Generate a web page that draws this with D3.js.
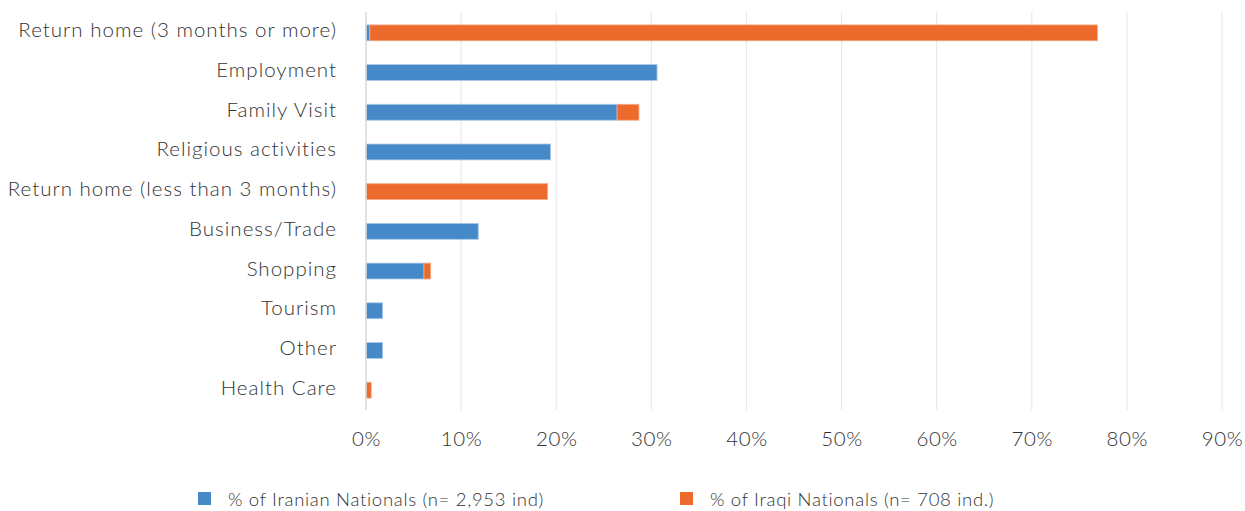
<!DOCTYPE html>
<html>
<head>
<meta charset="utf-8">
<script src="https://cdn.jsdelivr.net/npm/d3@7"></script>
<style>
  body { margin: 0; background: #fff; }
  text { font-family: "Lato", "Open Sans", sans-serif; fill: #333; font-weight: 300; }
</style>
</head>
<body>
<div id="chart"></div>
<script>
const categories = [
  "Return home (3 months or more)", "Employment", "Family Visit", "Religious activities",
  "Return home (less than 3 months)", "Business/Trade", "Shopping", "Tourism", "Other", "Health Care"
]
const iranian = [0.4, 30.6, 26.4, 19.4, 0, 11.8, 6.1, 1.75, 1.75, 0]
const iraqi   = [76.5, 0, 2.3, 0, 19.1, 0, 0.7, 0, 0, 0.55]
const tickValues = [0, 10, 20, 30, 40, 50, 60, 70, 80, 90]
const seriesNames = ["% of Iranian Nationals (n= 2,953 ind)", "% of Iraqi Nationals (n= 708 ind.)"]
const colors = ["#4689c8", "#ed6a2d"]

const W = 1245, H = 511
const MARGIN = { TOP: 13, BOTTOM: 101, LEFT: 366, RIGHT: 23 }

const svg = d3.select("#chart").append("svg")
  .attr("width", W).attr("height", H)

const x = d3.scaleLinear().domain([0, 90]).range([MARGIN.LEFT, W - MARGIN.RIGHT])
const y = d3.scaleBand().domain(categories)
  .range([MARGIN.TOP, H - MARGIN.BOTTOM])
  .paddingInner(0.6).paddingOuter(0.3)

// gridlines
svg.append("g").selectAll("line")
  .data(tickValues.slice(1))
  .join("line")
    .attr("x1", d => x(d)).attr("x2", d => x(d))
    .attr("y1", MARGIN.TOP - 1).attr("y2", H - MARGIN.BOTTOM)
    .attr("stroke", "#e9e9e9").attr("stroke-width", 1.2)

const rows = categories.map((c, i) => ({ cat: c, a: iranian[i], b: iraqi[i] }))

const g = svg.append("g")
g.selectAll("rect.ir")
  .data(rows.filter(d => d.a > 0))
  .join("rect")
    .attr("x", x(0))
    .attr("y", d => y(d.cat))
    .attr("width", d => x(d.a) - x(0))
    .attr("height", y.bandwidth())
    .attr("fill", colors[0])
    .attr("stroke", "#a9c8e6").attr("stroke-width", 0.8)

g.selectAll("rect.iq")
  .data(rows.filter(d => d.b > 0))
  .join("rect")
    .attr("x", d => x(d.a))
    .attr("y", d => y(d.cat))
    .attr("width", d => x(d.a + d.b) - x(d.a))
    .attr("height", y.bandwidth())
    .attr("fill", colors[1])
    .attr("stroke", "#f5ab88").attr("stroke-width", 0.8)

// y axis line + labels
const yAxis = svg.append("g")
  .attr("transform", `translate(${x(0)},0)`)
  .call(d3.axisLeft(y).tickSize(0).tickPadding(29))
yAxis.select(".domain").attr("stroke", "#d9d9d9").attr("stroke-width", 1.5)
  .attr("d", `M0,${MARGIN.TOP - 1}V${H - MARGIN.BOTTOM}`)
yAxis.selectAll("text")
  .attr("dy", "0.22em")
  .style("font-size", "20.5px").style("font-family", null).attr("fill", null)
  .style("letter-spacing", "1px")

// x axis labels
const xAxis = svg.append("g")
  .attr("transform", `translate(0,${H - MARGIN.BOTTOM})`)
  .call(d3.axisBottom(x).tickValues(tickValues).tickFormat(d => d + "%").tickSize(0).tickPadding(21))
xAxis.select(".domain").remove()
xAxis.selectAll("text")
  .style("font-size", "20.5px").style("font-family", null).attr("fill", null)
  .style("letter-spacing", "0.6px")

// legend
const legendX = [198, 680]
const legend = svg.append("g")
seriesNames.forEach((name, i) => {
  legend.append("rect")
    .attr("x", legendX[i]).attr("y", 492)
    .attr("width", 13).attr("height", 13)
    .attr("fill", colors[i])
  legend.append("text")
    .attr("x", legendX[i] + 30).attr("y", 499)
    .attr("dominant-baseline", "central")
    .style("font-size", "18.5px")
    .style("letter-spacing", "0.7px")
    .text(name)
})
</script>
</body>
</html>
